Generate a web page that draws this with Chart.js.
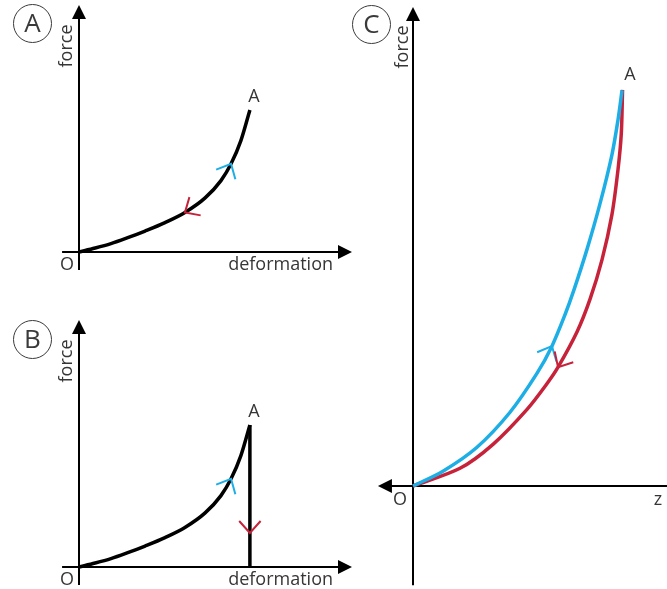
<!DOCTYPE html>
<html>
<head>
<meta charset="utf-8">
<script src="https://cdn.jsdelivr.net/npm/chart.js@4/dist/chart.umd.min.js"></script>
<style>
  html, body { margin: 0; padding: 0; background: #fff; }
  #wrap { position: relative; width: 667px; height: 589px; overflow: hidden; font-family: "Open Sans", "DejaVu Sans", sans-serif; }
  #wrap canvas { position: absolute; }
  .tag { position: absolute; box-sizing: border-box; width: 39px; height: 39px; border: 1.5px solid #3a3a3a; border-radius: 50%;
         color: #3a3a3a; font-size: 26px; line-height: 35px; text-align: center; }
</style>
</head>
<body>
<div id="wrap">
  <canvas id="cA" width="360" height="295" style="left:0;top:0"></canvas>
  <canvas id="cB" width="360" height="289" style="left:0;top:300px"></canvas>
  <canvas id="cC" width="307" height="589" style="left:360px;top:0"></canvas>
  <div class="tag" style="left:13px;top:4px">A</div>
  <div class="tag" style="left:13px;top:320px">B</div>
  <div class="tag" style="left:352px;top:5px">C</div>
</div>
<script>
// ---------- data ----------
// Panels A and B: loading curve from O to point A
const loadDeformation = [0, 0.59, 1.17, 1.76, 2.42, 3.15, 3.88, 4.62, 5.20, 5.57, 5.93, 6.26];
const loadForce       = [0, 0.16, 0.34, 0.57, 0.85, 1.19, 1.60, 2.19, 2.89, 3.57, 4.51, 5.75];
// Panel B: unloading straight down from A
const unloadDeformation = [6.26, 6.26, 6.26];
const unloadForce       = [5.75, 1.38, 0];
// Panel C: loading (blue) and unloading (red) paths between O and A
const cLoadZ       = [0, 1.18, 2.52, 3.82, 4.88, 5.47, 5.98, 6.34, 6.85, 7.36, 7.83, 8.07, 8.23];
const cLoadForce   = [0, 0.31, 0.81, 1.54, 2.35, 2.92, 3.57, 4.10, 4.94, 5.89, 6.91, 7.64, 8.26];
const cUnloadZ     = [0, 1.85, 3.15, 4.49, 5.28, 5.71, 6.46, 6.97, 7.44, 7.83, 8.07, 8.20, 8.25];
const cUnloadForce = [0, 0.37, 0.87, 1.60, 2.14, 2.48, 3.22, 3.90, 4.72, 5.66, 6.60, 7.35, 8.27];
// text labels
const originLabel = 'O';
const forceLabel = 'force';
const deformationLabel = 'deformation';
const zLabel = 'z';
const pointLabel = 'A';

// ---------- styles ----------
const BLUE = '#1caee5';
const RED = '#c6223a';
const TEXT = '#363636';
const FONT = '18px "Open Sans", "DejaVu Sans", sans-serif';

const pts = (xs, ys) => xs.map((x, i) => ({ x, y: ys[i] }));

function triangle(ctx, tx, ty, dx, dy, h, w) {
  const bx = tx - dx * h, by = ty - dy * h;
  ctx.beginPath();
  ctx.moveTo(tx, ty);
  ctx.lineTo(bx - dy * w, by + dx * w);
  ctx.lineTo(bx + dy * w, by - dx * w);
  ctx.closePath();
  ctx.fill();
}

const diagramPlugin = {
  id: 'diagram',
  beforeDatasetsDraw(chart, args, o) {
    const ctx = chart.ctx, xs = chart.scales.x, ys = chart.scales.y;
    const X = v => xs.getPixelForValue(v), Y = v => ys.getPixelForValue(v);
    const ah = 14, aw = 7;
    ctx.save();
    ctx.strokeStyle = '#000'; ctx.fillStyle = '#000'; ctx.lineWidth = 2;
    const y0 = Y(0), x0 = X(0);
    const xa = X(o.xFrom), xb = X(xs.max);
    ctx.beginPath();
    ctx.moveTo(o.arrowLeft ? xa + ah - 1 : xa, y0);
    ctx.lineTo(o.arrowRight ? xb - ah + 1 : xb, y0);
    ctx.stroke();
    if (o.arrowRight) triangle(ctx, xb, y0, 1, 0, ah, aw);
    if (o.arrowLeft) triangle(ctx, xa, y0, -1, 0, ah, aw);
    const ya = Y(o.yFrom), yb = Y(ys.max);
    ctx.beginPath();
    ctx.moveTo(x0, ya);
    ctx.lineTo(x0, yb + ah - 1);
    ctx.stroke();
    triangle(ctx, x0, yb, 0, -1, ah, aw);
    ctx.restore();
  },
  afterDatasetsDraw(chart, args, o) {
    const ctx = chart.ctx, xs = chart.scales.x, ys = chart.scales.y;
    const X = v => xs.getPixelForValue(v), Y = v => ys.getPixelForValue(v);
    // direction chevrons
    for (const a of o.arrows) {
      const d = chart.getDatasetMeta(a.ds).data;
      const p = d[a.i], q0 = d[a.i - 1], q1 = d[a.i + 1];
      let tx = q1.x - q0.x, ty = q1.y - q0.y;
      const n = Math.hypot(tx, ty);
      tx = tx / n * a.dir; ty = ty / n * a.dir;
      const ang = 42 * Math.PI / 180, len = 16;
      const ends = [-1, 1].map(s => {
        const c = Math.cos(s * ang), sn = Math.sin(s * ang);
        const bx = -tx, by = -ty;
        return [p.x + (bx * c - by * sn) * len, p.y + (bx * sn + by * c) * len];
      });
      ctx.save();
      ctx.strokeStyle = a.color; ctx.lineWidth = 2; ctx.lineJoin = 'miter';
      ctx.beginPath();
      ctx.moveTo(ends[0][0], ends[0][1]);
      ctx.lineTo(p.x, p.y);
      ctx.lineTo(ends[1][0], ends[1][1]);
      ctx.stroke();
      ctx.restore();
    }
    // labels
    for (const L of o.labels) {
      ctx.save();
      ctx.font = FONT;
      ctx.fillStyle = TEXT;
      ctx.textAlign = L.align || 'center';
      ctx.textBaseline = 'alphabetic';
      ctx.translate(X(L.x) + L.dx, Y(L.y) + L.dy);
      if (L.rotate) ctx.rotate(L.rotate);
      ctx.fillText(L.text, 0, 0);
      ctx.restore();
    }
  }
};

function makeChart(id, datasets, padding, diagram) {
  return new Chart(document.getElementById(id), {
    type: 'scatter',
    data: { datasets },
    options: {
      responsive: false,
      animation: false,
      events: [],
      layout: { padding },
      scales: {
        x: { type: 'linear', display: false, min: 0, max: 10 },
        y: { type: 'linear', display: false, min: 0, max: 10 }
      },
      plugins: { legend: { display: false }, tooltip: { enabled: false }, diagram }
    },
    plugins: [diagramPlugin]
  });
}

const line = (data, color, smooth) => Object.assign({
  data, showLine: true, borderColor: color, borderWidth: 3.5, pointRadius: 0,
  clip: false, fill: false, borderCapStyle: 'butt'
}, smooth);

const MONO = { cubicInterpolationMode: 'monotone' };
const BEZ = { tension: 0.3 };
const STRAIGHT = { tension: 0 };

const lastDef = loadDeformation[loadDeformation.length - 1];
const lastForce = loadForce[loadForce.length - 1];
const rot = -Math.PI / 2;

// Panel A
makeChart('cA',
  [line(pts(loadDeformation, loadForce), '#000', MONO)],
  { left: 79, right: 8, top: 5, bottom: 43 },
  {
    xFrom: -0.62, yFrom: -0.73, arrowRight: true, arrowLeft: false,
    arrows: [
      { ds: 0, i: 9, dir: 1, color: BLUE },
      { ds: 0, i: 6, dir: -1, color: RED }
    ],
    labels: [
      { text: originLabel, x: 0, y: 0, dx: -12, dy: 18 },
      { text: deformationLabel, x: 10, y: 0, dx: -19, dy: 18, align: 'right' },
      { text: forceLabel, x: 0, y: 10, dx: -7, dy: 41, rotate: rot },
      { text: pointLabel, x: lastDef, y: lastForce, dx: 4, dy: -8 }
    ]
  });

// Panel B
makeChart('cB',
  [line(pts(loadDeformation, loadForce), '#000', MONO),
   line(pts(unloadDeformation, unloadForce), '#000', STRAIGHT)],
  { left: 79, right: 8, top: 20, bottom: 22 },
  {
    xFrom: -0.62, yFrom: -0.73, arrowRight: true, arrowLeft: false,
    arrows: [
      { ds: 0, i: 9, dir: 1, color: BLUE },
      { ds: 1, i: 1, dir: 1, color: RED }
    ],
    labels: [
      { text: originLabel, x: 0, y: 0, dx: -12, dy: 18 },
      { text: deformationLabel, x: 10, y: 0, dx: -19, dy: 18, align: 'right' },
      { text: forceLabel, x: 0, y: 10, dx: -7, dy: 41, rotate: rot },
      { text: pointLabel, x: lastDef, y: lastForce, dx: 4, dy: -8 }
    ]
  });

// Panel C
makeChart('cC',
  [line(pts(cLoadZ, cLoadForce), BLUE, BEZ),
   line(pts(cUnloadZ, cUnloadForce), RED, BEZ)],
  { left: 53, right: 0, top: 7, bottom: 103 },
  {
    xFrom: -1.38, yFrom: -2.07, arrowRight: false, arrowLeft: true,
    arrows: [
      { ds: 0, i: 5, dir: 1, color: BLUE },
      { ds: 1, i: 5, dir: -1, color: RED }
    ],
    labels: [
      { text: originLabel, x: 0, y: 0, dx: -13, dy: 19 },
      { text: zLabel, x: 10, y: 0, dx: -9, dy: 19 },
      { text: forceLabel, x: 0, y: 10, dx: -5, dy: 40, rotate: rot },
      { text: pointLabel, x: cLoadZ[cLoadZ.length - 1], y: cLoadForce[cLoadForce.length - 1], dx: 8, dy: -10 }
    ]
  });
</script>
</body>
</html>
